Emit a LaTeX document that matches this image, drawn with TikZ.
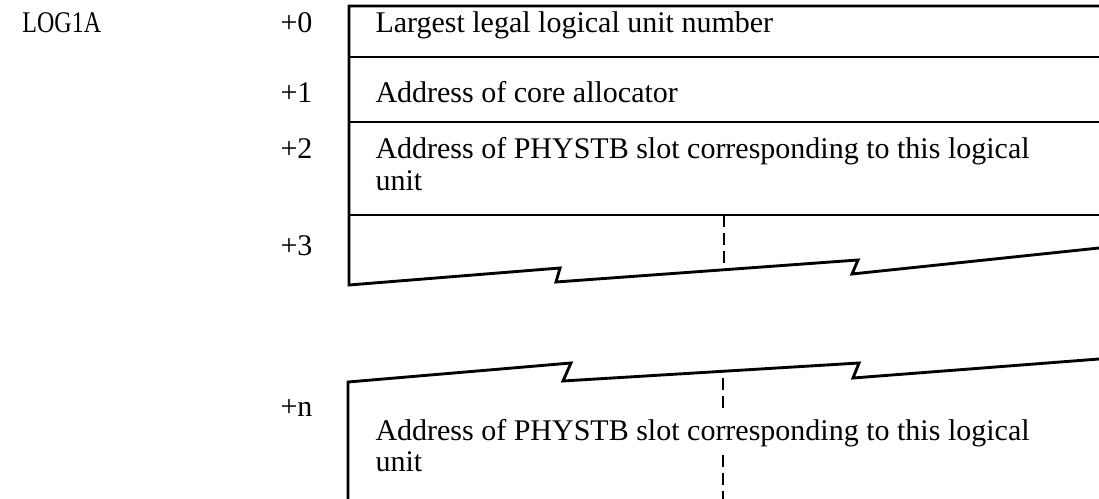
\documentclass[tikz,border=0pt]{standalone}
\usepackage{fontspec}
\setmainfont{Liberation Serif}
\newfontfamily\condserif{Liberation Serif}[FakeStretch=0.8]
\begin{document}
\begin{tikzpicture}[x=0.4pt,y=-0.4pt,
  txt/.style={anchor=base west, inner sep=0pt, font=\fontsize{12}{14.4}\selectfont},
  frame/.style={line width=1.15pt, line join=miter},
  rule/.style={line width=0.8pt},
  cut/.style={line width=1pt, dash pattern=on 4.8pt off 2.4pt}]
\useasboundingbox (0,0) rectangle (1099,499);
% labels
\node[txt, font=\fontsize{12}{14.4}\condserif] (log) at (22,33) {LOG1A};
\node[txt] (l0) at (280,33) {+0};
\node[txt] (l1) at (280,103) {+1};
\node[txt] (l2) at (280,159) {+2};
\node[txt] (l3) at (280,255) {+3};
\node[txt] (ln) at (280,416) {+n};
% entries
\node[txt] (e0) at (375,33) {Largest legal logical unit number};
\node[txt] (e1) at (375,103) {Address of core allocator};
\node[txt] (e2) at (375,159) {Address of PHYSTB slot corresponding to this logical};
\node[txt] (e2b) at (375,190) {unit};
\node[txt] (en) at (375,440) {Address of PHYSTB slot corresponding to this logical};
\node[txt] (enb) at (375,471) {unit};
% upper frame
\draw[frame] (1099,6) -- (349,6) -- (349,285) -- (560,268) -- (556,282) -- (858,260) -- (852,274) -- (1099,248);
\draw[rule] (349,57) -- (1099,57);
\draw[rule] (349,122) -- (1099,122);
\draw[rule] (349,215) -- (1099,215);
\draw[cut] (724,215) -- (724,269);
% lower frame
\draw[frame] (1099,359) -- (853,378) -- (859,363) -- (563,381) -- (571,363) -- (348,382) -- (348,499);
\draw[cut] (723,378) -- (723,412);
\draw[cut] (723,455) -- (723,499);
\end{tikzpicture}
\end{document}
